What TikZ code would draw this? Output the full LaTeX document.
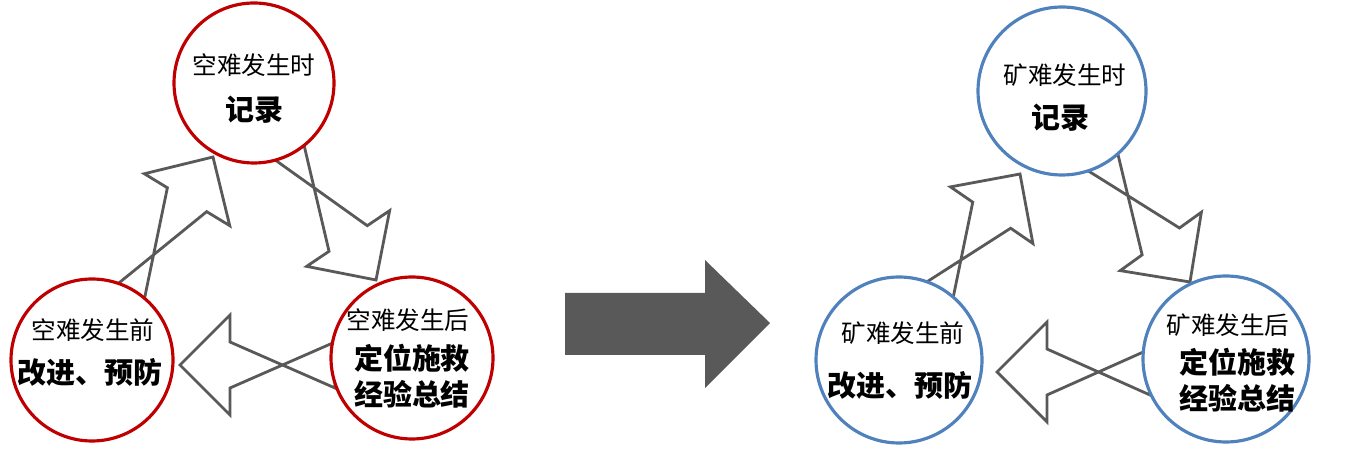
\documentclass[tikz,border=0pt]{standalone}
\usepackage{fontspec}
\setmainfont{Noto Sans CJK SC}
\usetikzlibrary{calc}
\definecolor{redring}{HTML}{C00000}
\definecolor{bluering}{HTML}{4F81BD}
\definecolor{arrowgray}{HTML}{595959}

% hollow block arrow from tail to tip
\newcommand\hollowarrow[2]{%
  \draw [hollow] ($(#1)!0.46cm!90:(#2)$) -- ($($(#2)!1cm!(#1)$)!0.46cm!-90:(#2)$)
    -- ($($(#2)!1cm!(#1)$)!1cm!-90:(#2)$) -- (#2)
    -- ($($(#2)!1cm!(#1)$)!1cm!90:(#2)$) -- ($($(#2)!1cm!(#1)$)!0.46cm!90:(#2)$)
    -- ($(#1)!0.46cm!-90:(#2)$) -- cycle;}

\begin{document}
\begin{tikzpicture}[x=0.02cm,y=-0.02cm]
    \tikzset{
      hollow/.style={draw=arrowgray, line width=1.6pt, fill=white, line join=miter},
      ring/.style={circle, draw, line width=1.8pt, fill=white, inner sep=0pt},
      small/.style={font=\fontsize{14}{16}\selectfont},
      big/.style={font=\fontsize{16.5}{19}\selectfont\bfseries}
    }
    \useasboundingbox (0,0) rectangle (1359,455);
    % left cycle
    \coordinate (la1) at (335,365); \coordinate (la2) at (180,365);
    \coordinate (lu1) at (120,310); \coordinate (lu2) at (213,157);
    \coordinate (ld1) at (280,137); \coordinate (ld2) at (376,280);
    \hollowarrow{la1}{la2}
    \hollowarrow{lu1}{lu2}
    \hollowarrow{ld1}{ld2}
    \node [ring, draw=redring, minimum size=160*0.02cm] (ltop) at (254,83) {};
    \node [ring, draw=redring, minimum size=162*0.02cm] (lleft) at (92,360) {};
    \node [ring, draw=redring, minimum size=162*0.02cm] (lright) at (412,358) {};
    \node [small] (ltopa) at (254,65) {空难发生时};
    \node [big] (ltopb) at (254,110) {记录};
    \node [small] (llefta) at (93,330) {空难发生前};
    \node [big] (lleftb) at (90,372) {改进、预防};
    \node [small] (lrighta) at (408,320) {空难发生后};
    \node [big] (lrightb) at (412,358) {定位施救};
    \node [big] (lrightc) at (412,394) {经验总结};

    % big arrow
    \fill [arrowgray] (565,293) -- (705,293) -- (705,260) -- (770,323)
      -- (705,388) -- (705,355) -- (565,355) -- cycle;

    % right cycle
    \coordinate (ra1) at (1150,372); \coordinate (ra2) at (997,372);
    \coordinate (ru1) at (930,305); \coordinate (ru2) at (1020,174);
    \coordinate (rd1) at (1095,150); \coordinate (rd2) at (1190,282);
    \hollowarrow{ra1}{ra2}
    \hollowarrow{ru1}{ru2}
    \hollowarrow{rd1}{rd2}
    \node [ring, draw=bluering, minimum size=168*0.02cm] (rtop) at (1062,91) {};
    \node [ring, draw=bluering, minimum size=166*0.02cm] (rleft) at (899,360) {};
    \node [ring, draw=bluering, minimum size=166*0.02cm] (rright) at (1226,359) {};
    \node [small] (rtopa) at (1065,75) {矿难发生时};
    \node [big] (rtopb) at (1060,118) {记录};
    \node [small] (rlefta) at (903,333) {矿难发生前};
    \node [big] (rleftb) at (900,385) {改进、预防};
    \node [small] (rrighta) at (1228,325) {矿难发生后};
    \node [big] (rrightb) at (1237,362) {定位施救};
    \node [big] (rrightc) at (1237,398) {经验总结};
\end{tikzpicture}
\end{document}
